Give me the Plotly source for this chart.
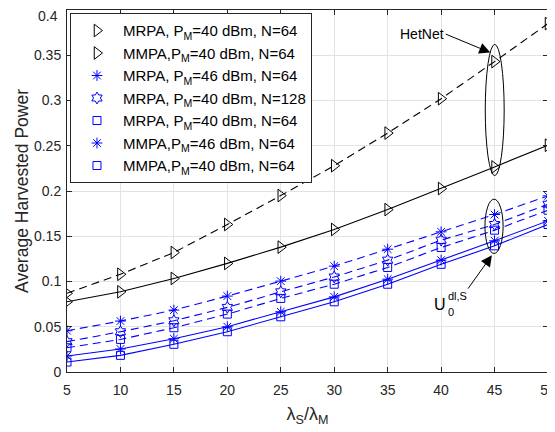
import plotly.graph_objects as go

x_ratio = [5, 10, 15, 20, 25, 30, 35, 40, 45, 50]
y_ticks = [0, 0.05, 0.1, 0.15, 0.2, 0.25, 0.3, 0.35]

mrpa_40_64_het = [0.087, 0.108, 0.132, 0.163, 0.195, 0.228, 0.264, 0.302, 0.343, 0.385]
mmpa_40_64_het = [0.0776, 0.0886, 0.1034, 0.120, 0.138, 0.1575, 0.1795, 0.2027, 0.2266, 0.2506]

mrpa_46_64 = [0.0456, 0.0563, 0.0684, 0.0839, 0.1004, 0.117, 0.1357, 0.1549, 0.174, 0.1946]
mrpa_40_128 = [0.0335, 0.0445, 0.0566, 0.0714, 0.0886, 0.105, 0.1236, 0.1457, 0.163, 0.1854]
mrpa_40_64 = [0.0268, 0.036, 0.0489, 0.064, 0.0813, 0.097, 0.1155, 0.1376, 0.1567, 0.1788]
mmpa_46_64 = [0.0177, 0.0254, 0.0368, 0.050, 0.0666, 0.083, 0.1026, 0.1236, 0.145, 0.167]
mmpa_40_64 = [0.011, 0.0184, 0.0306, 0.0445, 0.061, 0.0776, 0.097, 0.119, 0.1394, 0.163]

names = [
    "MRPA, P<sub>M</sub>=40 dBm, N=64",
    "MMPA,P<sub>M</sub>=40 dBm, N=64",
    "MRPA, P<sub>M</sub>=46 dBm, N=64",
    "MRPA, P<sub>M</sub>=40 dBm, N=128",
    "MRPA, P<sub>M</sub>=40 dBm, N=64",
    "MMPA,P<sub>M</sub>=46 dBm, N=64",
    "MMPA,P<sub>M</sub>=40 dBm, N=64",
]
series = [mrpa_40_64_het, mmpa_40_64_het, mrpa_46_64, mrpa_40_128, mrpa_40_64, mmpa_46_64, mmpa_40_64]
colors = ["black", "black", "blue", "blue", "blue", "blue", "blue"]
dashes = ["8px,5px", "solid", "8px,5px", "8px,5px", "8px,5px", "solid", "solid"]
symbols = ["triangle-right-open", "triangle-right-open", "asterisk-open", "hexagram-open",
           "square-open", "asterisk-open", "square-open"]
sizes = [11, 11, 9, 9, 8, 9, 8]

fig = go.Figure()
for nm, ys, c, d, s, sz in zip(names, series, colors, dashes, symbols, sizes):
    fig.add_trace(go.Scatter(x=x_ratio, y=ys, mode="lines", line=dict(color=c, width=1.1, dash=d),
                             showlegend=False, hoverinfo="skip"))
    fig.add_trace(go.Scatter(x=x_ratio, y=ys, mode="markers", name=nm,
                             marker=dict(symbol=s, size=sz, color=c, line=dict(color=c, width=1))))

# ellipses
fig.add_shape(type="circle", xref="x", yref="y", x0=44.13, x1=45.9, y0=0.217, y1=0.362,
              line=dict(color="black", width=1))
fig.add_shape(type="circle", xref="x", yref="y", x0=44.1, x1=45.8, y0=0.131, y1=0.191,
              line=dict(color="black", width=1))

# arrows
fig.add_annotation(x=44.6, y=0.353, ax=40.3, ay=0.374, axref="x", ayref="y", xref="x", yref="y",
                   text="", showarrow=True, arrowhead=2, arrowsize=2.2, arrowwidth=1, arrowcolor="black")
fig.add_annotation(x=38.2, y=0.374, xref="x", yref="y", text="HetNet", showarrow=False,
                   font=dict(size=14, color="black"))
fig.add_annotation(x=44.75, y=0.129, ax=42.42, ay=0.0905, axref="x", ayref="y", xref="x", yref="y",
                   text="", showarrow=True, arrowhead=2, arrowsize=2.2, arrowwidth=1, arrowcolor="black")
fig.add_annotation(x=39.94, y=0.0745, xref="x", yref="y", text="U", showarrow=False,
                   font=dict(size=16, color="black"))
fig.add_annotation(x=40.88, y=0.066, xref="x", yref="y", text="0", showarrow=False,
                   font=dict(size=11, color="black"))
fig.add_annotation(x=41.5, y=0.0835, xref="x", yref="y", text="dl,S", showarrow=False,
                   font=dict(size=11, color="black"))

# top y tick label, nudged down slightly so it is not clipped at the page edge
fig.add_annotation(x=0, y=0.984, xref="paper", yref="paper", xanchor="right", yanchor="middle",
                   xshift=-7, text="0.4", showarrow=False, font=dict(size=14, color="#262626"))

axis_common = dict(showline=True, linecolor="#262626", linewidth=1, mirror="ticks",
                   ticks="inside", ticklen=5, tickcolor="#262626", showgrid=True,
                   gridcolor="#e3e3e3", gridwidth=1, zeroline=False, automargin=False,
                   ticklabeloverflow="allow",
                   tickfont=dict(size=14, color="#262626"))

fig.update_xaxes(range=[5, 50], tickvals=x_ratio, ticklabelstandoff=5, **axis_common,
                 title=dict(text="λ<sub>S</sub>/λ<sub>M</sub>", font=dict(size=18, color="#262626"), standoff=10))
fig.update_yaxes(range=[0, 0.4], tickvals=y_ticks, ticktext=[f"{v:g}" for v in y_ticks],
                 ticklabelstandoff=2, **axis_common,
                 title=dict(text="Average Harvested Power", font=dict(size=17.5, color="#262626"), standoff=0))

# the page adds an 8px body margin, so the figure is drawn 8px in from the top-left
fig.update_layout(
    width=547, height=424,
    margin=dict(l=59, r=7, t=2, b=60),
    paper_bgcolor="white", plot_bgcolor="white",
    font=dict(family="Liberation Sans, Arial, sans-serif", color="#262626"),
    legend=dict(x=0.0062, y=0.991, xanchor="left", yanchor="top", bgcolor="white",
                bordercolor="#262626", borderwidth=1, font=dict(size=15, color="black"),
                tracegroupgap=0, itemwidth=42),
)

fig.write_html("out.html")
